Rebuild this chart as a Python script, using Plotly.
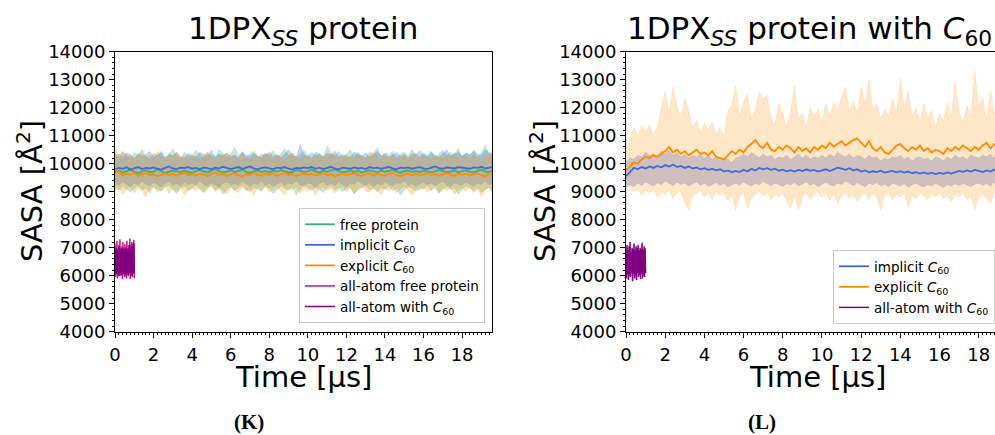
import numpy as np
import plotly.graph_objects as go

# ---------------- data: SASA [Å²] vs time [μs] ----------------
time = np.arange(100) * 0.2
aa_time = np.linspace(0.0, 1.0, 40)

# (K) 1DPX_SS protein
k_free_mean = [9700, 9760, 9680, 9740, 9790, 9710, 9650, 9730, 9770, 9690,
               9720, 9800, 9740, 9670, 9710, 9760, 9730, 9690, 9750, 9700,
               9660, 9740, 9780, 9720, 9690, 9750, 9810, 9730, 9680, 9720,
               9760, 9700, 9740, 9790, 9710, 9670, 9730, 9760, 9700, 9740,
               9690, 9750, 9720, 9780, 9730, 9680, 9710, 9770, 9740, 9700,
               9730, 9790, 9720, 9680, 9750, 9710, 9760, 9800, 9730, 9690,
               9720, 9760, 9700, 9740, 9680, 9720, 9770, 9730, 9690, 9750,
               9710, 9740, 9790, 9720, 9670, 9730, 9760, 9710, 9740, 9700,
               9750, 9720, 9680, 9730, 9780, 9740, 9700, 9720, 9760, 9690,
               9730, 9770, 9710, 9680, 9740, 9790, 9720, 9700, 9750, 9730]
k_free_lo = [9150, 9050, 9200, 9100, 8980, 9120, 9220, 9060, 9140, 8950,
             9180, 9090, 9010, 9160, 9230, 9070, 8920, 9130, 9200, 9040,
             9110, 9250, 9080, 8970, 9150, 9210, 9060, 9130, 8900, 9090,
             9190, 9030, 9140, 9240, 9080, 8990, 9160, 9100, 9020, 9180,
             9120, 8940, 9070, 9200, 9130, 9050, 9170, 8880, 9090, 9210,
             9140, 9030, 9160, 9080, 8960, 9120, 9230, 9060, 9150, 9010,
             9100, 9190, 8930, 9070, 9140, 9220, 9050, 9120, 8990, 9160,
             9080, 9200, 9030, 9110, 8870, 9060, 9170, 9130, 9000, 9150,
             9090, 9220, 9040, 9130, 8950, 9100, 9180, 9070, 9140, 8910,
             9060, 9200, 9120, 9030, 9150, 8980, 9090, 9170, 8860, 9100]
k_free_hi = [10350, 10200, 10450, 10300, 10180, 10400, 10280, 10520, 10250, 10150,
             10380, 10300, 10460, 10220, 10330, 10550, 10270, 10190, 10410, 10300,
             10240, 10480, 10350, 10200, 10420, 10310, 10260, 10500, 10380, 10230,
             10330, 10600, 10290, 10400, 10210, 10360, 10450, 10280, 10190, 10390,
             10300, 10470, 10250, 10350, 10560, 10280, 10400, 10220, 10330, 10480,
             10310, 10200, 10420, 10360, 10250, 10640, 10380, 10290, 10450, 10230,
             10340, 10500, 10270, 10410, 10300, 10200, 10430, 10350, 10580, 10260,
             10390, 10310, 10460, 10220, 10350, 10420, 10280, 10510, 10330, 10240,
             10400, 10300, 10450, 10190, 10360, 10480, 10270, 10410, 10330, 10560,
             10250, 10380, 10310, 10470, 10220, 10400, 10680, 10300, 10440, 10350]

k_impl_mean = [9800, 9850, 9820, 9870, 9790, 9840, 9880, 9810, 9850, 9830,
               9870, 9820, 9790, 9850, 9900, 9830, 9810, 9860, 9840, 9880,
               9820, 9850, 9800, 9870, 9840, 9810, 9860, 9830, 9890, 9850,
               9810, 9840, 9880, 9820, 9860, 9900, 9830, 9800, 9850, 9870,
               9830, 9810, 9860, 9840, 9880, 9820, 9790, 9850, 9830, 9870,
               9840, 9880, 9820, 9860, 9810, 9850, 9890, 9830, 9800, 9860,
               9840, 9820, 9870, 9830, 9850, 9810, 9880, 9840, 9860, 9820,
               9850, 9890, 9830, 9800, 9860, 9840, 9870, 9820, 9850, 9880,
               9830, 9810, 9860, 9900, 9840, 9820, 9870, 9850, 9830, 9880,
               9860, 9840, 9820, 9870, 9850, 9890, 9830, 9860, 9880, 9850]
k_impl_lo = [9300, 9220, 9350, 9260, 9180, 9320, 9240, 9380, 9270, 9200,
             9330, 9250, 9170, 9300, 9360, 9230, 9290, 9190, 9340, 9260,
             9310, 9220, 9380, 9270, 9200, 9320, 9250, 9160, 9300, 9350,
             9240, 9290, 9210, 9360, 9280, 9190, 9320, 9250, 9370, 9230,
             9300, 9180, 9270, 9340, 9220, 9310, 9260, 9390, 9240, 9200,
             9320, 9270, 9150, 9290, 9350, 9230, 9300, 9210, 9340, 9260,
             9190, 9310, 9250, 9370, 9280, 9220, 9330, 9170, 9290, 9240,
             9350, 9260, 9200, 9320, 9280, 9380, 9230, 9300, 9190, 9270,
             9340, 9250, 9310, 9220, 9290, 9360, 9240, 9180, 9310, 9270,
             9230, 9340, 9280, 9200, 9320, 9260, 9370, 9240, 9300, 9220]
k_impl_hi = [10280, 10350, 10220, 10400, 10310, 10180, 10370, 10260, 10330, 10450,
             10240, 10300, 10390, 10210, 10340, 10280, 10420, 10250, 10190, 10360,
             10300, 10230, 10410, 10330, 10270, 10480, 10220, 10350, 10290, 10390,
             10250, 10320, 10200, 10440, 10310, 10270, 10380, 10230, 10350, 10290,
             10420, 10260, 10330, 10200, 10370, 10510, 10280, 10240, 10690, 10320,
             10260, 10400, 10290, 10350, 10220, 10380, 10300, 10460, 10250, 10330,
             10290, 10210, 10420, 10340, 10270, 10390, 10230, 10310, 10450, 10280,
             10350, 10240, 10300, 10410, 10260, 10330, 10200, 10380, 10290, 10470,
             10320, 10250, 10400, 10300, 10230, 10360, 10520, 10280, 10340, 10410,
             10270, 10390, 10310, 10460, 10350, 10280, 10500, 10400, 10330, 10480]

k_expl_mean = [9780, 9720, 9580, 9640, 9600, 9670, 9560, 9620, 9680, 9590,
               9630, 9550, 9610, 9660, 9590, 9640, 9570, 9620, 9690, 9600,
               9640, 9580, 9650, 9610, 9560, 9630, 9680, 9600, 9640, 9570,
               9620, 9660, 9590, 9540, 9630, 9600, 9670, 9610, 9580, 9640,
               9600, 9650, 9570, 9620, 9680, 9590, 9630, 9560, 9610, 9660,
               9600, 9640, 9580, 9620, 9670, 9590, 9630, 9550, 9610, 9650,
               9590, 9630, 9670, 9600, 9560, 9620, 9660, 9580, 9640, 9610,
               9570, 9630, 9680, 9600, 9550, 9620, 9650, 9590, 9640, 9580,
               9620, 9660, 9590, 9630, 9570, 9610, 9680, 9600, 9560, 9640,
               9600, 9650, 9580, 9620, 9660, 9590, 9540, 9630, 9600, 9620]
k_expl_lo = [9000, 9150, 8900, 9080, 9200, 8950, 9120, 9040, 8820, 9100,
             9180, 8980, 9060, 9220, 8930, 9110, 9000, 9160, 8870, 9050,
             9140, 9010, 9190, 8960, 9080, 9230, 8990, 9120, 9040, 8910,
             9150, 9070, 8950, 9180, 9030, 9100, 8880, 9140, 9060, 9210,
             8970, 9090, 9170, 9020, 8900, 9130, 9050, 9200, 8940, 9110,
             9010, 9160, 8860, 9080, 9190, 9030, 9120, 8960, 9070, 9220,
             9000, 9140, 8920, 9100, 9180, 9040, 8980, 9150, 9060, 8890,
             9120, 9010, 9170, 8950, 9090, 9200, 9030, 8870, 9110, 9050,
             9160, 8980, 9080, 9210, 8940, 9120, 9030, 9170, 8900, 9060,
             9140, 9000, 9190, 8960, 9100, 8830, 9070, 9150, 9020, 9120]
k_expl_hi = [10550, 10300, 10420, 10200, 10350, 10150, 10280, 10400, 10220, 10330,
             10180, 10450, 10260, 10140, 10310, 10230, 10380, 10200, 10290, 10160,
             10340, 10250, 10130, 10300, 10410, 10220, 10170, 10330, 10260, 10400,
             10190, 10280, 10150, 10350, 10240, 10120, 10310, 10270, 10200, 10380,
             10230, 10160, 10320, 10250, 10140, 10290, 10360, 10210, 10170, 10300,
             10260, 10130, 10340, 10220, 10280, 10150, 10390, 10240, 10190, 10310,
             10200, 10270, 10150, 10330, 10250, 10180, 10300, 10420, 10230, 10160,
             10290, 10210, 10350, 10140, 10260, 10320, 10190, 10240, 10380, 10170,
             10280, 10220, 10150, 10310, 10260, 10190, 10340, 10230, 10400, 10170,
             10250, 10300, 10180, 10330, 10220, 10150, 10280, 10360, 10210, 10290]

k_aa_free = [7150, 5950, 7000, 6050, 7250, 5900, 6950, 6150, 7100, 5980,
             7300, 6000, 6900, 6100, 7050, 5870, 7200, 6050, 6980, 5950,
             7120, 6100, 7000, 5900, 7250, 6020, 6950, 5980, 7100, 6120,
             7330, 5880, 7050, 6000, 7200, 5950, 7150, 6080, 7280, 5920]
k_aa_c60 = [6900, 6100, 7000, 6050, 6850, 6200, 6950, 6000, 7050, 6150,
            6800, 6080, 6980, 6020, 6900, 6180, 7000, 6050, 6880, 6100,
            6950, 6000, 7020, 6150, 6850, 6080, 6970, 6030, 6920, 6120,
            7100, 6050, 6880, 6150, 7050, 6000, 6950, 6100, 7150, 6080]

# (L) 1DPX_SS protein with C60
l_impl_mean = [9550, 9700, 9850, 9800, 9880, 9830, 9900, 9850, 9920, 9870,
               9950, 9900, 9970, 9880, 9920, 9850, 9900, 9830, 9870, 9800,
               9840, 9780, 9820, 9760, 9800, 9720, 9760, 9690, 9740, 9700,
               9780, 9720, 9820, 9760, 9850, 9800, 9840, 9780, 9820, 9750,
               9790, 9730, 9770, 9720, 9780, 9740, 9800, 9750, 9780, 9720,
               9760, 9800, 9740, 9790, 9860, 9820, 9780, 9840, 9760, 9800,
               9720, 9760, 9690, 9730, 9700, 9750, 9680, 9720, 9740, 9690,
               9730, 9680, 9720, 9660, 9700, 9650, 9690, 9640, 9680, 9630,
               9670, 9640, 9690, 9650, 9700, 9740, 9710, 9760, 9720, 9780,
               9740, 9700, 9760, 9720, 9790, 9740, 9770, 9720, 9780, 9750]
l_impl_lo = [9150, 9250, 9180, 9300, 9220, 9350, 9270, 9200, 9320, 9250,
             9380, 9290, 9220, 9340, 9260, 9310, 9200, 9280, 9350, 9230,
             9300, 9190, 9270, 9330, 9220, 9290, 9180, 9260, 9310, 9240,
             9350, 9270, 9200, 9310, 9250, 9380, 9280, 9210, 9300, 9260,
             9190, 9290, 9240, 9330, 9210, 9280, 9350, 9230, 9300, 9180,
             9270, 9340, 9250, 9200, 9310, 9260, 9380, 9290, 9220, 9320,
             9240, 9180, 9290, 9250, 9330, 9210, 9270, 9190, 9300, 9240,
             9200, 9280, 9160, 9250, 9310, 9220, 9170, 9260, 9200, 9290,
             9230, 9150, 9250, 9200, 9280, 9220, 9300, 9240, 9180, 9270,
             9310, 9230, 9280, 9200, 9330, 9260, 9210, 9300, 9250, 9320]
l_impl_hi = [10050, 10200, 10150, 10300, 10250, 10400, 10300, 10350, 10250, 10450,
             10350, 10500, 10300, 10400, 10250, 10350, 10200, 10300, 10250, 10350,
             10200, 10300, 10150, 10250, 10100, 10200, 10150, 10050, 10200, 10250,
             10350, 10250, 10400, 10300, 10200, 10350, 10250, 10300, 10150, 10250,
             10200, 10300, 10150, 10250, 10350, 10200, 10300, 10150, 10250, 10200,
             10300, 10200, 10350, 10250, 10400, 10300, 10250, 10350, 10200, 10300,
             10250, 10150, 10300, 10200, 10250, 10100, 10200, 10150, 10250, 10200,
             10300, 10150, 10250, 10100, 10200, 10250, 10150, 10200, 10100, 10250,
             10200, 10100, 10250, 10150, 10300, 10200, 10250, 10150, 10300, 10250,
             10200, 10300, 10250, 10350, 10200, 10300, 10250, 10400, 10300, 10350]

l_expl_mean = [9750, 9900, 10050, 10000, 10150, 10250, 10200, 10300, 10250, 10350,
               10450, 10600, 10400, 10500, 10350, 10450, 10300, 10400, 10500, 10350,
               10400, 10300, 10450, 10250, 10200, 10150, 10300, 10450, 10350, 10500,
               10400, 10600, 10700, 10850, 10650, 10550, 10750, 10500, 10450, 10600,
               10500, 10650, 10550, 10400, 10600, 10450, 10550, 10400, 10600, 10500,
               10650, 10550, 10750, 10600, 10700, 10800, 10650, 10750, 10850, 10900,
               10750, 10600, 10800, 10550, 10450, 10600, 10400, 10350, 10500, 10650,
               10700, 10550, 10450, 10600, 10500, 10650, 10450, 10550, 10400, 10500,
               10450, 10350, 10550, 10450, 10600, 10500, 10650, 10550, 10450, 10600,
               10500, 10650, 10750, 10550, 10700, 10600, 10750, 10650, 10700, 10750]
l_expl_lo = [9300, 9150, 9000, 9100, 8850, 9050, 8950, 9100, 8800, 9000,
             8900, 9050, 8750, 8950, 9000, 8600, 8350, 8850, 8950, 9050,
             8800, 8950, 8700, 9000, 8850, 8950, 8650, 8900, 8350, 8800,
             8950, 8400, 8750, 8900, 9000, 8850, 8950, 8700, 8900, 8800,
             8950, 8650, 8400, 8850, 8350, 8800, 8950, 8700, 8900, 9000,
             8800, 8950, 8700, 8900, 8600, 8850, 9000, 8750, 8900, 8650,
             8850, 8950, 8700, 8900, 8800, 8350, 8850, 8950, 8700, 8900,
             8800, 8950, 8400, 8850, 8750, 8950, 8850, 8700, 8900, 8800,
             8950, 8750, 8850, 8650, 8900, 8800, 8950, 8700, 8850, 8350,
             8800, 8900, 8750, 8600, 8950, 8850, 8700, 8900, 8800, 8950]
l_expl_hi = [10250, 10900, 11300, 11000, 11350, 11150, 11400, 11050, 11300, 12000,
             12600, 11800, 12750, 12100, 11600, 12350, 11900, 11300, 11550, 11100,
             11450, 11200, 11500, 11050, 11300, 10950, 11900, 12100, 12800, 11700,
             12200, 12500, 11600, 11950, 12550, 12300, 12450, 11650, 11400, 12150,
             11800, 11300, 11900, 12800, 11600, 11800, 11300, 12000, 11700, 11950,
             11500, 12150, 11700, 12200, 11900, 12400, 12750, 11850, 12250, 11800,
             12800, 12100, 13000, 11900, 12150, 11600, 11950, 11700, 12300, 11800,
             13050, 12000, 12600, 11700, 12000, 11450, 12200, 11600, 11900, 11300,
             11800, 11500, 12200, 11700, 12950, 11850, 11500, 12100, 11700, 13400,
             12000, 12400, 11600, 12600, 11800, 12250, 11700, 12000, 11600, 11900]

l_aa_c60 = [6950, 5900, 7100, 6050, 6900, 5850, 7050, 6000, 7200, 5950,
            6850, 6100, 7000, 5800, 6950, 6050, 7150, 5900, 6900, 6000,
            7050, 5850, 6980, 6100, 7100, 5950, 6900, 6020, 7000, 5880,
            6950, 6050, 7180, 5900, 6920, 6000, 7050, 5950, 6980, 6100]

y_ticks = list(range(4000, 14001, 1000))
x_ticks = list(range(0, 19, 2))

# ---------------- styling ----------------
GREEN = "#3cb371"
BLUE = "#4169e1"
ORANGE = "#ff8c00"
MAGENTA = "#c71585"
PURPLE = "#800080"
FONT = "DejaVu Sans"


def rgba(hex_color, a):
    h = hex_color.lstrip("#")
    r, g, b = int(h[0:2], 16), int(h[2:4], 16), int(h[4:6], 16)
    return f"rgba({r},{g},{b},{a})"


fig = go.Figure()


def add_band(lo, hi, color, xa, ya, alpha=0.3):
    fig.add_trace(go.Scatter(x=time, y=lo, mode="lines", xaxis=xa, yaxis=ya,
                             line=dict(color=rgba(color, alpha), width=0.5),
                             showlegend=False, hoverinfo="skip"))
    fig.add_trace(go.Scatter(x=time, y=hi, mode="lines", xaxis=xa, yaxis=ya,
                             fill="tonexty", fillcolor=rgba(color, alpha),
                             line=dict(color=rgba(color, alpha), width=0.5),
                             showlegend=False, hoverinfo="skip"))


def add_line(x, y, color, name, xa, ya, legend, width=1.8):
    fig.add_trace(go.Scatter(x=x, y=y, mode="lines", name=name, xaxis=xa, yaxis=ya,
                             line=dict(color=color, width=width), legend=legend))


# panel K
add_band(k_free_lo, k_free_hi, GREEN, "x", "y")
add_band(k_impl_lo, k_impl_hi, BLUE, "x", "y")
add_band(k_expl_lo, k_expl_hi, ORANGE, "x", "y", alpha=0.28)
add_line(time, k_free_mean, GREEN, "free protein", "x", "y", "legend")
add_line(time, k_impl_mean, BLUE, "implicit <i>C</i><sub>60</sub>", "x", "y", "legend")
add_line(time, k_expl_mean, ORANGE, "explicit <i>C</i><sub>60</sub>", "x", "y", "legend")
add_line(aa_time, k_aa_free, MAGENTA, "all-atom free protein", "x", "y", "legend", 1.5)
add_line(aa_time, k_aa_c60, PURPLE, "all-atom with <i>C</i><sub>60</sub>", "x", "y", "legend", 1.5)

# panel L
add_band(l_impl_lo, l_impl_hi, BLUE, "x2", "y2", alpha=0.32)
add_band(l_expl_lo, l_expl_hi, ORANGE, "x2", "y2", alpha=0.22)
add_line(time, l_impl_mean, BLUE, "implicit <i>C</i><sub>60</sub>", "x2", "y2", "legend2")
add_line(time, l_expl_mean, ORANGE, "explicit <i>C</i><sub>60</sub>", "x2", "y2", "legend2")
add_line(aa_time, l_aa_c60, PURPLE, "all-atom with <i>C</i><sub>60</sub>", "x2", "y2", "legend2", 1.5)

W, H = 995, 435
Y_DOM = [(H - 331.7) / H, (H - 51.7) / H]


def xaxis(domain, rng, mirror):
    return dict(domain=domain, range=rng, tickvals=x_ticks, ticks="outside",
                ticklen=5, tickwidth=1, tickcolor="black", automargin=False,
                ticklabelstandoff=2,
                minor=dict(dtick=0.2, tick0=0, ticks="outside", ticklen=2.5,
                           tickcolor="black", tickwidth=0.8),
                showline=True, linecolor="black", linewidth=1, mirror=mirror,
                showgrid=False, zeroline=False,
                tickfont=dict(family=FONT, size=18, color="black"))


def yaxis(anchor, mirror):
    return dict(domain=Y_DOM, range=[4000, 14000], tickvals=y_ticks, tickformat="d",
                anchor=anchor, ticks="outside", ticklen=5, tickwidth=1, tickcolor="black",
                automargin=False,
                minor=dict(dtick=200, tick0=0, ticks="outside", ticklen=2.5,
                           tickcolor="black", tickwidth=0.8),
                showline=True, linecolor="black", linewidth=1, mirror=mirror,
                showgrid=False, zeroline=False,
                tickfont=dict(family=FONT, size=18, color="black"))


legend_style = dict(font=dict(family=FONT, size=13.5, color="black"),
                    bgcolor="rgba(255,255,255,0.85)", bordercolor="#c8c8c8",
                    borderwidth=1, itemwidth=30, tracegroupgap=0,
                    traceorder="normal", yanchor="bottom")

fig.update_layout(
    width=W, height=H, margin=dict(l=0, r=0, t=0, b=0, autoexpand=False),
    paper_bgcolor="white", plot_bgcolor="white",
    xaxis=xaxis([115 / W, 492 / W], [0, 19.55], True),
    yaxis=yaxis("x", True),
    xaxis2=xaxis([626 / W, 1.0], [0, 18.83], True),
    yaxis2=yaxis("x2", False),
    legend=dict(x=485 / W, xanchor="right", y=(H - 323) / H, **legend_style),
    legend2=dict(x=1.0, xanchor="right", y=(H - 324) / H, **legend_style),
)


def label(text, x_px, y_px, size, angle=0, family=FONT, anchor="center", yanchor="middle"):
    fig.add_annotation(text=text, xref="paper", yref="paper",
                       x=x_px / W, y=1 - y_px / H, xanchor=anchor, yanchor=yanchor,
                       showarrow=False, textangle=angle, borderpad=0,
                       font=dict(family=family, size=size, color="black"))


label("1DPX<sub><i>SS</i></sub> protein", 303, 31, 31)
label("1DPX<sub><i>SS</i></sub> protein with <i>C</i><sub>60</sub>", 993, 31, 31, anchor="right")
label("Time [μs]", 303, 377, 29)
label("Time [μs]", 817, 377, 29)
label("SASA [Å<sup>2</sup>]", 30, 191, 29, angle=-90)
label("SASA [Å<sup>2</sup>]", 543, 191, 29, angle=-90)
label("<b>(K)</b>", 249, 435, 21, family="Liberation Serif", yanchor="bottom")
label("<b>(L)</b>", 762, 435, 21, family="Liberation Serif", yanchor="bottom")

fig.write_html("out.html")
